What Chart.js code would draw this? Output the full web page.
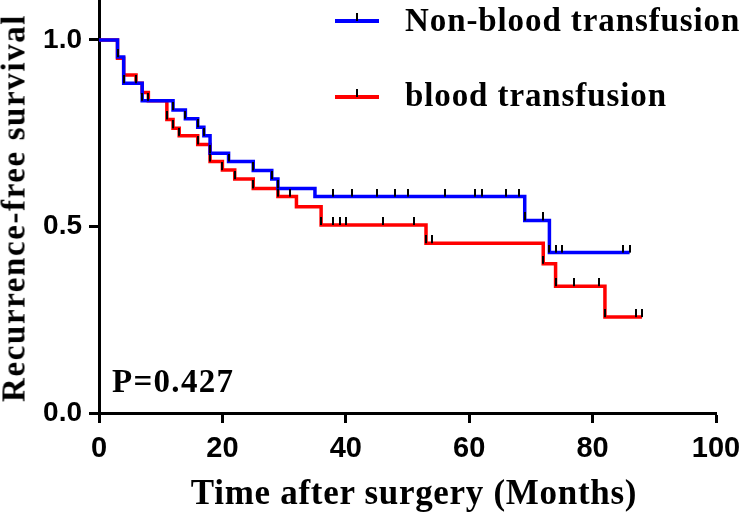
<!DOCTYPE html>
<html>
<head>
<meta charset="utf-8">
<script src="https://cdn.jsdelivr.net/npm/chart.js@4.4.1/dist/chart.umd.min.js"></script>
<style>
html,body{margin:0;padding:0;background:#fff;}
#wrap{position:relative;width:743px;height:517px;overflow:hidden;background:#fff;}
#c{position:absolute;left:0;top:0;}
.t{position:absolute;font-family:'Liberation Serif','Times New Roman',serif;font-weight:bold;color:#000;white-space:nowrap;line-height:1;}
.lg{position:absolute;height:4px;width:44px;}
.lt{position:absolute;width:2px;height:8px;background:#000;}
</style>
</head>
<body>
<div id="wrap">
  <canvas id="c" width="743" height="517"></canvas>
  <div class="t" id="ytitle" style="font-size:33px;letter-spacing:1.6px;left:14px;top:208px;transform:translate(-50%,-50%) rotate(-90deg);">Recurrence-free survival</div>
  <div class="t" id="xtitle" style="font-size:35px;letter-spacing:0.7px;left:414px;top:475px;transform:translateX(-50%);">Time after surgery (Months)</div>
  <div class="lg" style="left:335px;top:19px;background:#0000ff;"></div>
  <div class="lt" style="left:356px;top:13px;"></div>
  <div class="t" style="font-size:33px;letter-spacing:0.9px;left:405px;top:4px;">Non-blood transfusion</div>
  <div class="lg" style="left:335px;top:95px;background:#ff0000;"></div>
  <div class="lt" style="left:356px;top:89px;"></div>
  <div class="t" style="font-size:33px;letter-spacing:0.9px;left:405px;top:79px;">blood transfusion</div>
  <div class="t" style="font-size:33px;letter-spacing:1.3px;left:112px;top:365px;">P=0.427</div>
</div>
<script>
// ---- data ----
const blueLabel = 'Non-blood transfusion';
const blueTimes = [0, 3, 4, 7, 12, 14, 16, 17, 18, 21, 25, 28, 29, 35, 69, 73, 86];
const blueSurv  = [1.0, 0.954, 0.884, 0.837, 0.812, 0.789, 0.766, 0.743, 0.696, 0.674, 0.650, 0.627, 0.602, 0.580, 0.516, 0.430, 0.430];
const blueCensor = [3, 4, 7, 12, 14, 16, 17, 18, 21, 25, 28, 29, 38, 41, 45, 48, 50, 56, 61, 62, 66, 68, 69, 72, 73, 74, 75, 85, 86];

const redLabel = 'blood transfusion';
const redTimes = [0, 3, 4, 6, 7, 8, 11, 12, 13, 16, 18, 20, 22, 25, 29, 32, 36, 53, 72, 74, 82, 88];
const redSurv  = [1.0, 0.951, 0.906, 0.884, 0.859, 0.837, 0.787, 0.763, 0.743, 0.720, 0.674, 0.651, 0.627, 0.602, 0.580, 0.553, 0.504, 0.455, 0.400, 0.340, 0.257, 0.257];
const redCensor = [6, 8, 11, 12, 13, 16, 18, 20, 22, 25, 29, 31, 36, 38, 39, 40, 46, 51, 53, 54, 72, 74, 77, 81, 82, 87, 88];

const xTicks = [0, 20, 40, 60, 80, 100];
const yTicks = [0.0, 0.5, 1.0];
const yTickLabels = ['0.0', '0.5', '1.0'];

// ---- helpers ----
function curve(times, surv) { return times.map((t, i) => ({x: t, y: surv[i]})); }
function survAt(times, surv, t) {
  let v = surv[0];
  for (let i = 0; i < times.length; i++) { if (times[i] <= t) v = surv[i]; }
  return v;
}
function censorPts(censor, times, surv) { return censor.map(t => ({x: t, y: survAt(times, surv, t)})); }

const tickImg = document.createElement('canvas');
tickImg.width = 2; tickImg.height = 16;
(function(){ const g = tickImg.getContext('2d'); g.fillStyle = '#000'; g.fillRect(0, 0, 2, 8); })();

const fixAxis = (w, h) => function(scale) {
  if (w !== null) scale.width = w;
  if (h !== null) scale.height = h;
  scale.paddingTop = 0; scale.paddingBottom = 0; scale.paddingLeft = 0; scale.paddingRight = 0;
};

new Chart(document.getElementById('c'), {
  type: 'line',
  data: {
    datasets: [
      { label: blueLabel + ' censored', data: censorPts(blueCensor, blueTimes, blueSurv), showLine: false,
        pointStyle: tickImg, pointRadius: 5, order: 0 },
      { label: redLabel + ' censored', data: censorPts(redCensor, redTimes, redSurv), showLine: false,
        pointStyle: tickImg, pointRadius: 5, order: 0 },
      { label: blueLabel, data: curve(blueTimes, blueSurv), stepped: true, borderColor: '#0000ff',
        borderWidth: 3.5, pointRadius: 0, fill: false, order: 1, borderCapStyle: 'butt', borderJoinStyle: 'miter' },
      { label: redLabel, data: curve(redTimes, redSurv), stepped: true, borderColor: '#ff0000',
        borderWidth: 3.5, pointRadius: 0, fill: false, order: 2, borderCapStyle: 'butt', borderJoinStyle: 'miter' }
    ]
  },
  options: {
    responsive: false,
    animation: false,
    layout: { autoPadding: false, padding: { left: 0, right: 27, top: 0, bottom: 0 } },
    plugins: { legend: { display: false }, tooltip: { enabled: false }, title: { display: false } },
    scales: {
      x: {
        type: 'linear', min: 0, max: 100,
        afterBuildTicks: s => { s.ticks = xTicks.map(v => ({value: v})); },
        afterFit: fixAxis(null, 104),
        grid: { display: true, drawOnChartArea: false, drawTicks: true, tickLength: 10, tickWidth: 3, tickColor: '#000' },
        border: { display: true, width: 3, color: '#000' },
        ticks: { color: '#000', padding: 9, maxRotation: 0, autoSkip: false,
          font: { family: "'Liberation Sans', Arial, sans-serif", size: 29, weight: 'bold' } },
        title: { display: false }
      },
      y: {
        type: 'linear', min: 0, max: 1.107,
        afterBuildTicks: s => { s.ticks = yTicks.map(v => ({value: v})); },
        afterFit: fixAxis(99, null),
        grid: { display: true, drawOnChartArea: false, drawTicks: true, tickLength: 10, tickWidth: 3, tickColor: '#000' },
        border: { display: true, width: 3, color: '#000' },
        ticks: { color: '#000', padding: 7, autoSkip: false,
          callback: (v) => { const i = yTicks.indexOf(v); return i >= 0 ? yTickLabels[i] : ''; },
          font: { family: "'Liberation Sans', Arial, sans-serif", size: 28, weight: 'bold' } },
        title: { display: false }
      }
    }
  }
});
</script>
</body>
</html>
